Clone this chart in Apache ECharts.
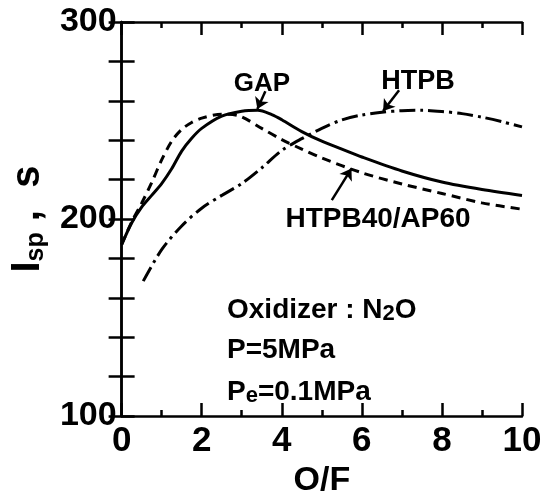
<!DOCTYPE html>
<html>
<head>
<meta charset="utf-8">
<script src="https://cdn.jsdelivr.net/npm/echarts@6/dist/echarts.min.js"></script>
<style>
  html, body { margin: 0; padding: 0; background: #fff; }
  #chart { width: 551px; height: 503px; }
</style>
</head>
<body>
<div id="chart"></div>
<script>
  // O/F vs Isp
  var gapOF = [0, 0.25, 0.5, 0.75, 1.0, 1.25, 1.5, 1.75, 2.0, 2.5, 3.0, 3.4, 3.75, 4.0, 4.5, 5.0, 5.5, 6.0, 7.0, 8.0, 9.0, 10]
  var gapIsp = [187, 198, 206, 212, 218, 225.5, 234.5, 241, 246, 252.2, 254.7, 255.2, 253, 250.4, 244.4, 239.5, 235.5, 231.5, 224.4, 218.8, 215, 212]

  var apOF = [0, 0.25, 0.5, 0.75, 1.0, 1.25, 1.5, 1.75, 2.0, 2.5, 2.9, 3.5, 4.0, 4.5, 5.0, 6.0, 7.0, 8.0, 9.0, 10]
  var apIsp = [187, 198.5, 208, 218.5, 230, 239.5, 245.5, 249, 251.2, 253.2, 252.6, 246, 240.3, 235.5, 231, 223.5, 217.8, 213, 208.2, 205]

  var htpbOF = [0.54, 1.0, 1.5, 2.0, 2.5, 3.0, 3.5, 4.0, 4.5, 5.0, 5.5, 6.0, 6.5, 7.0, 7.5, 8.0, 8.5, 9.0, 9.5, 10]
  var htpbIsp = [168.5, 184.5, 196.5, 205.5, 212, 218, 226, 234.8, 240.8, 246, 250.3, 252.8, 254.2, 255, 255.2, 254.6, 253.5, 251.7, 249.4, 246.8]

  // arrows pointing from the labels to the curves: [fromOF, fromIsp, toOF, toIsp]
  var gapArrow = [3.59, 264.9, 3.39, 255.8]
  var htpbArrow = [6.93, 265.4, 6.53, 254.8]
  var apArrow = [5.25, 209.6, 5.74, 225.6]

  var xTicks = [0, 10, 2]
  var yTicks = [100, 300, 100]

  var FONT = 'Liberation Sans'

  function zip (xs, ys){
    let out = []
    for(let i = 0;i<xs.length;i++){
      out.push([xs[i], ys[i]])
    }
    return out
  }

  function arrow (a){
    return {
      silent: true,
      symbol: ['none', 'arrow'],
      symbolSize: 11,
      label: {show: false},
      lineStyle: {type: 'solid', color: '#000', width: 2.5},
      data: [[{coord: [a[0], a[1]]}, {coord: [a[2], a[3]]}]],
    }
  }

  function xAxisOf (pos, showLabel){
    return {
      type: 'value',
      position: pos,
      min: xTicks[0],
      max: xTicks[1],
      interval: xTicks[2],
      axisLine: {show: true, lineStyle: {color: '#000', width: 2.5}},
      axisTick: {show: true, inside: true, length: 13, lineStyle: {color: '#000', width: 2.5}},
      minorTick: {show: true, splitNumber: 2, length: 6, lineStyle: {color: '#000', width: 2.5}},
      splitLine: {show: false},
      axisLabel: {
        show: showLabel,
        margin: 8,
        color: '#000',
        fontFamily: FONT,
        fontWeight: 'bold',
        fontSize: 35,
      },
      name: showLabel ? 'O/F' : '',
      nameLocation: 'middle',
      nameGap: 46,
      nameTextStyle: {color: '#000', fontFamily: FONT, fontWeight: 'bold', fontSize: 34},
    }
  }

  function yAxisOf (pos, showLabel){
    return {
      type: 'value',
      position: pos,
      min: yTicks[0],
      max: yTicks[1],
      interval: yTicks[2],
      axisLine: {show: true, lineStyle: {color: '#000', width: 2.5}},
      axisTick: {show: true, inside: true, length: 13, lineStyle: {color: '#000', width: 2.5}},
      minorTick: {show: true, splitNumber: 5, length: 13, lineStyle: {color: '#000', width: 2.5}},
      splitLine: {show: false},
      axisLabel: {
        show: showLabel,
        margin: 5,
        color: '#000',
        fontFamily: FONT,
        fontWeight: 'bold',
        fontSize: 34,
      },
      name: showLabel ? '{m|I}{s|sp}{m| ,  s}' : '',
      nameLocation: 'middle',
      nameRotate: 90,
      nameGap: 64,
      nameTextStyle: {
        color: '#000',
        rich: {
          m: {fontFamily: FONT, fontWeight: 'bold', fontSize: 40, lineHeight: 42, color: '#000'},
          s: {fontFamily: FONT, fontWeight: 'bold', fontSize: 25, lineHeight: 16, verticalAlign: 'bottom', color: '#000'},
        },
      },
    }
  }

  var rich = {
    a: {fontFamily: FONT, fontWeight: 'bold', fontSize: 28, lineHeight: 30, color: '#000'},
    b: {fontFamily: FONT, fontWeight: 'bold', fontSize: 22, lineHeight: 14, verticalAlign: 'bottom', color: '#000'},
  }

  function label (text, x, y, size, align){
    return {
      type: 'text',
      x: x,
      y: y,
      silent: true,
      style: {
        text: text,
        fill: '#000',
        font: 'bold ' + size + 'px "' + FONT + '"',
        align: align || 'center',
        verticalAlign: 'middle',
        rich: rich,
      },
    }
  }

  var chart = echarts.init(document.getElementById('chart'))
  var option = {
    animation: false,
    backgroundColor: '#fff',
    grid: {left: 118, right: 29, top: 22, bottom: 76, containLabel: false},
    xAxis: [xAxisOf('bottom', true), xAxisOf('top', false)],
    yAxis: [yAxisOf('left', true), yAxisOf('right', false)],
    graphic: [
      label('GAP', 262, 84, 26),
      label('HTPB', 418, 82, 27),
      label('HTPB40/AP60', 378, 219, 28),
      label('{a|Oxidizer : N}{b|2}{a|O}', 227, 310, 28, 'left'),
      label('{a|P=5MPa}', 227, 350, 28, 'left'),
      label('{a|P}{b|e}{a|=0.1MPa}', 227, 392, 28, 'left'),
    ],
    series: [
      {
        name: 'GAP',
        type: 'line',
        smooth: 0.3,
        symbol: 'none',
        lineStyle: {color: '#000', width: 3, type: 'solid'},
        data: zip(gapOF, gapIsp),
        markLine: arrow(gapArrow),
      },
      {
        name: 'HTPB40/AP60',
        type: 'line',
        smooth: 0.3,
        symbol: 'none',
        lineStyle: {color: '#000', width: 3, type: [9, 6]},
        data: zip(apOF, apIsp),
        markLine: arrow(apArrow),
      },
      {
        name: 'HTPB',
        type: 'line',
        smooth: 0.3,
        symbol: 'none',
        lineStyle: {color: '#000', width: 3, type: [16, 5, 3, 5]},
        data: zip(htpbOF, htpbIsp),
        markLine: arrow(htpbArrow),
      },
    ],
  }
  chart.setOption(option)
</script>
</body>
</html>
